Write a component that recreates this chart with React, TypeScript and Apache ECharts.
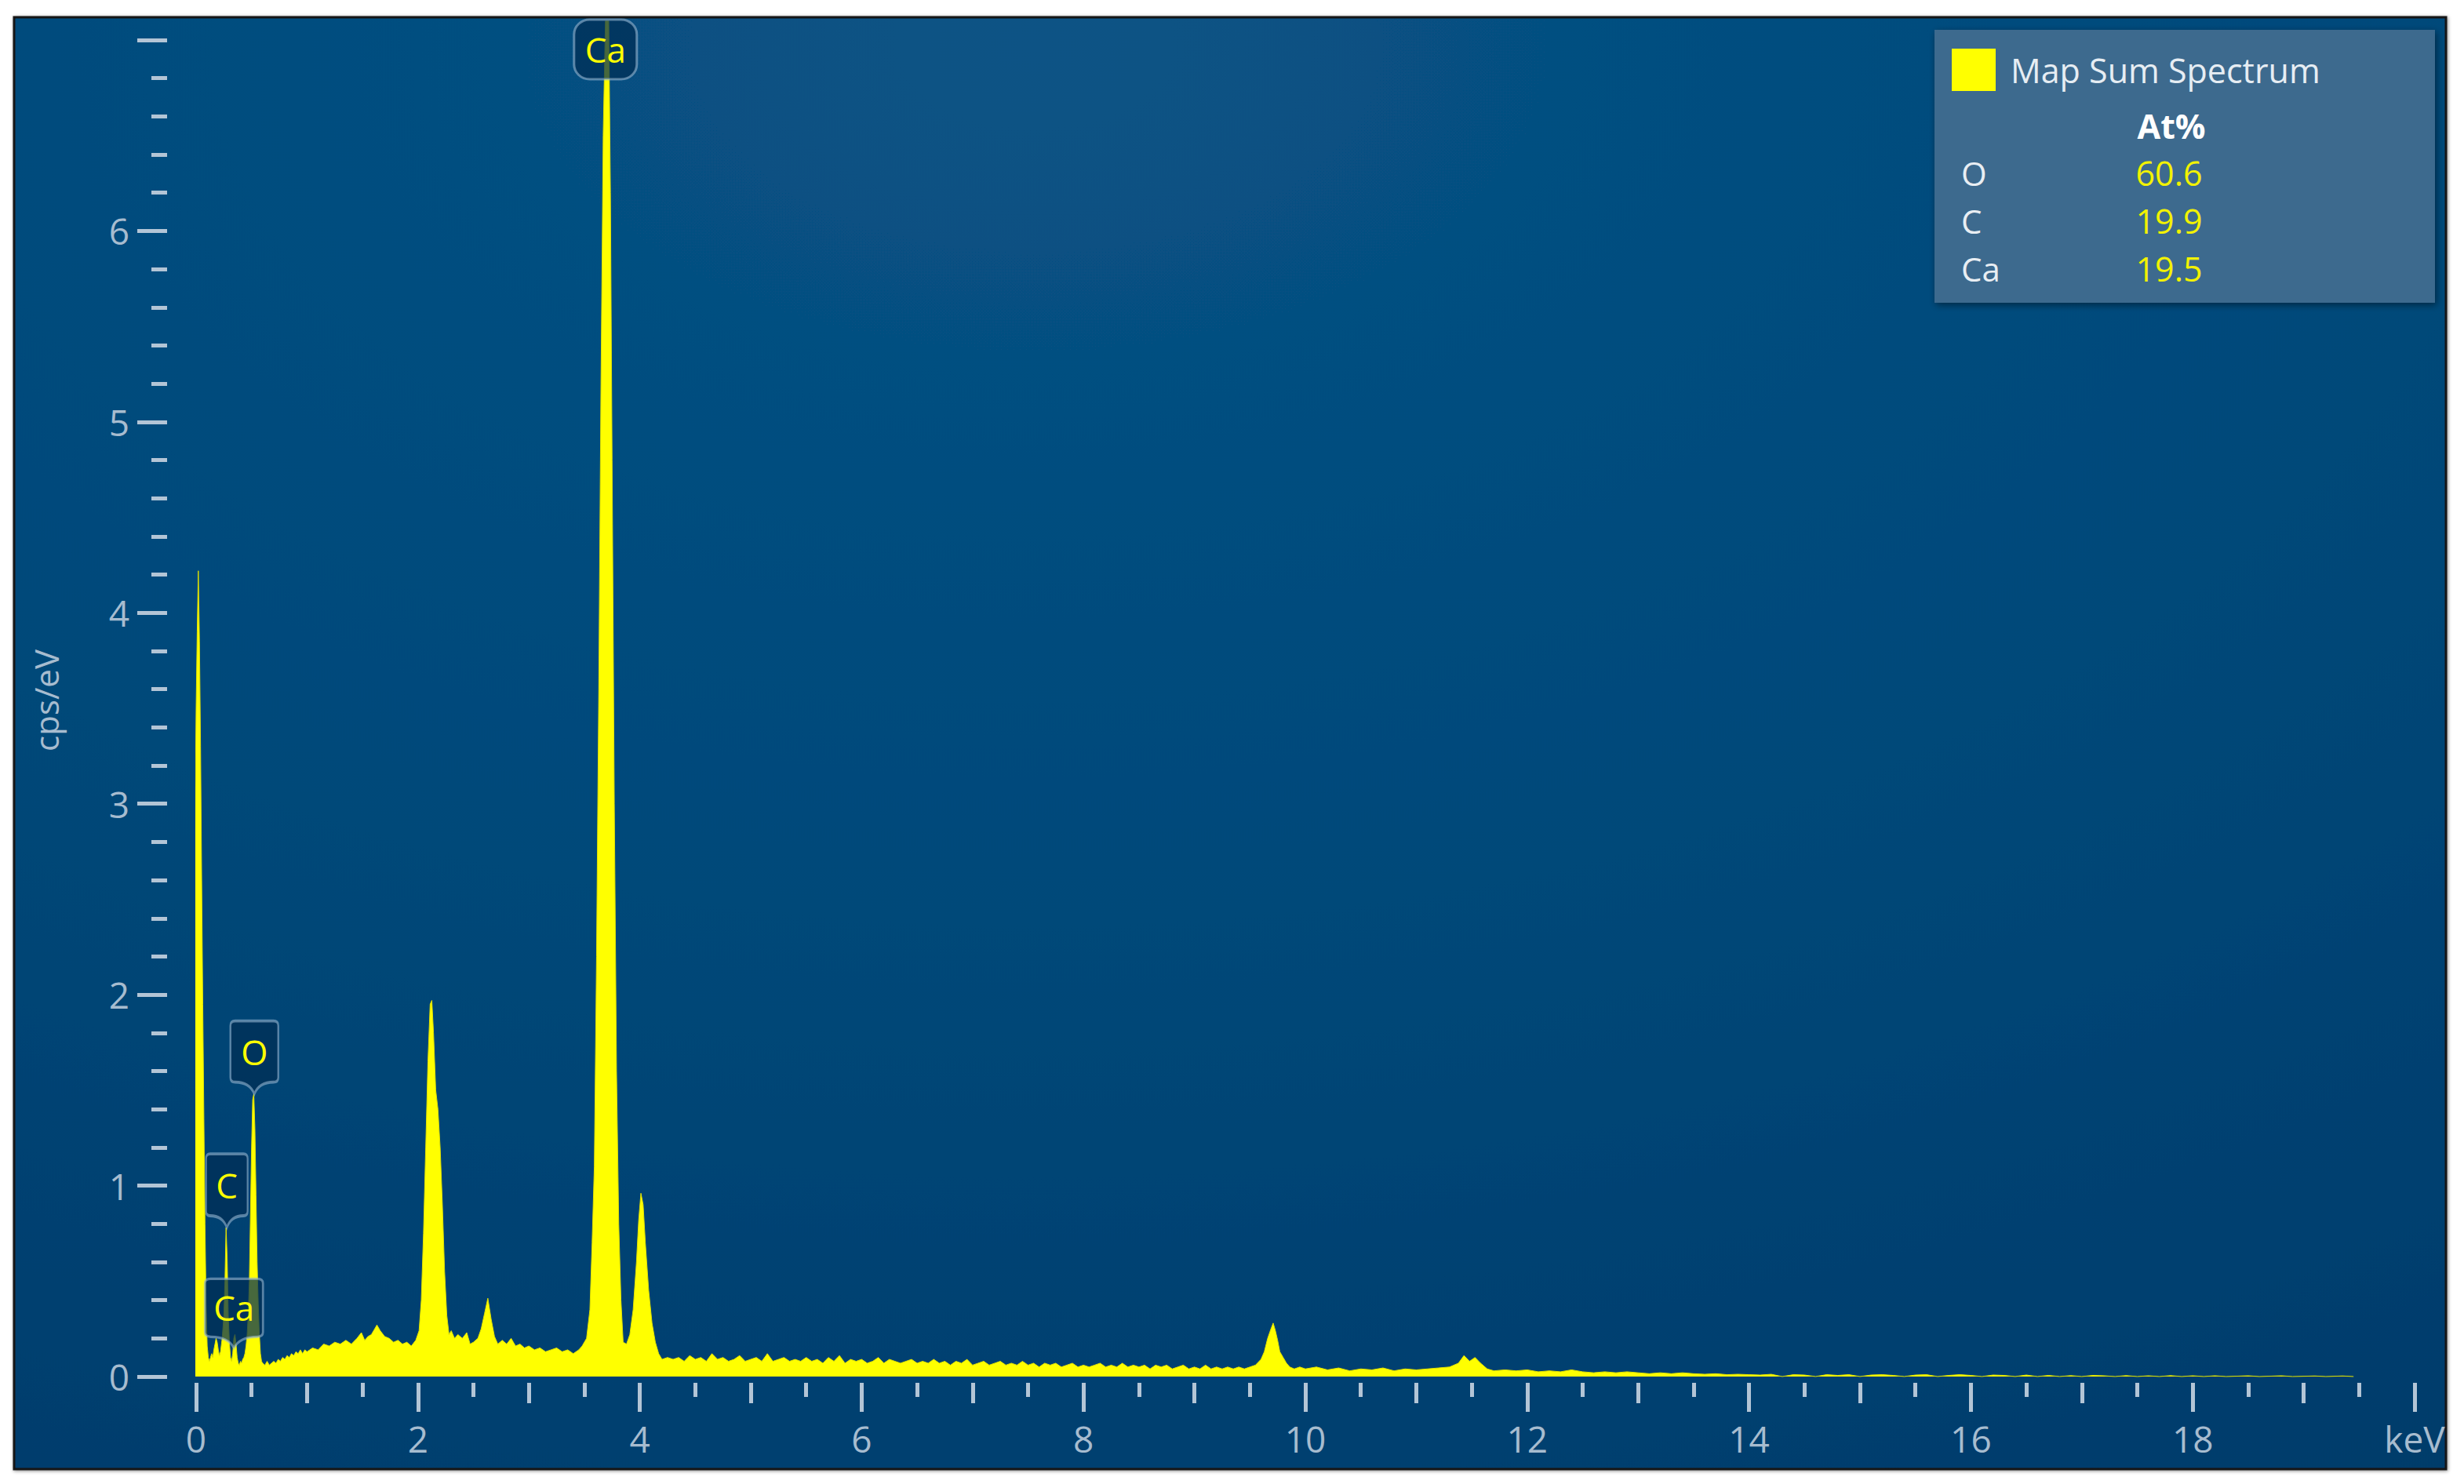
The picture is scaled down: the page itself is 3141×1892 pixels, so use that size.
import React, { useEffect, useRef } from "react";
import * as echarts from "echarts";

// ---------- DATA ----------
// Spectrum: [energy keV, counts cps/eV]
const zeroPeakAndLightElements: [number, number][] = [
  [-0.05, 0], [-0.04, 0.4], [-0.03, 1.1], [-0.02, 2.0], [-0.01, 2.9], [0.0, 3.5], [0.01, 3.9], [0.02, 4.22],
  [0.03, 3.85], [0.04, 3.3], [0.05, 2.6], [0.06, 1.95], [0.07, 1.35], [0.08, 0.8], [0.09, 0.38], [0.1, 0.16],
  [0.11, 0.1], [0.12, 0.08], [0.13, 0.1], [0.14, 0.12], [0.15, 0.1], [0.16, 0.14], [0.17, 0.17], [0.18, 0.2],
  [0.19, 0.18], [0.2, 0.14], [0.21, 0.11], [0.22, 0.13], [0.235, 0.2], [0.25, 0.32], [0.26, 0.5], [0.27, 0.78],
  [0.28, 0.62], [0.29, 0.32], [0.3, 0.18], [0.31, 0.1], [0.32, 0.08], [0.33, 0.12], [0.34, 0.2], [0.35, 0.22],
  [0.36, 0.17], [0.37, 0.1], [0.38, 0.07], [0.39, 0.06], [0.4, 0.08], [0.41, 0.07], [0.42, 0.09], [0.43, 0.1],
  [0.44, 0.12], [0.45, 0.16], [0.46, 0.22], [0.47, 0.32], [0.48, 0.5], [0.49, 0.85], [0.5, 1.2], [0.51, 1.45],
  [0.52, 1.48], [0.53, 1.3], [0.54, 0.95], [0.55, 0.6], [0.56, 0.38], [0.57, 0.22], [0.58, 0.12], [0.59, 0.08],
  [0.6, 0.07], [0.62, 0.06], [0.64, 0.08], [0.66, 0.06], [0.68, 0.07], [0.7, 0.08], [0.72, 0.07], [0.74, 0.09],
  [0.76, 0.08], [0.78, 0.1], [0.8, 0.09], [0.82, 0.11], [0.84, 0.1], [0.86, 0.12], [0.88, 0.11], [0.9, 0.13],
  [0.92, 0.12], [0.94, 0.14], [0.96, 0.12], [0.98, 0.14], [1.0, 0.13],
];

const midEnergyRegion: [number, number][] = [
  [1.05, 0.15], [1.1, 0.14], [1.15, 0.17], [1.2, 0.16], [1.25, 0.18], [1.3, 0.17], [1.35, 0.19], [1.4, 0.17],
  [1.45, 0.2], [1.49, 0.23], [1.52, 0.19], [1.55, 0.21], [1.58, 0.22], [1.61, 0.25], [1.63, 0.27], [1.66, 0.24],
  [1.7, 0.21], [1.74, 0.2], [1.78, 0.18], [1.82, 0.19], [1.86, 0.17], [1.9, 0.18], [1.94, 0.16], [1.98, 0.19],
  [2.01, 0.24], [2.03, 0.4], [2.05, 0.75], [2.07, 1.2], [2.09, 1.65], [2.11, 1.95], [2.125, 1.97], [2.14, 1.8],
  [2.16, 1.5], [2.18, 1.4], [2.2, 1.2], [2.22, 0.9], [2.24, 0.55], [2.26, 0.32], [2.28, 0.22], [2.3, 0.24],
  [2.33, 0.2], [2.36, 0.22], [2.4, 0.2], [2.44, 0.23], [2.47, 0.17], [2.5, 0.18], [2.54, 0.2], [2.57, 0.25],
  [2.6, 0.33], [2.63, 0.41], [2.66, 0.3], [2.69, 0.21], [2.72, 0.17], [2.76, 0.19], [2.8, 0.17], [2.84, 0.2],
  [2.88, 0.16], [2.92, 0.17], [2.96, 0.15], [3.0, 0.16], [3.05, 0.14], [3.1, 0.15], [3.15, 0.13], [3.2, 0.14],
  [3.25, 0.15], [3.3, 0.13], [3.35, 0.14], [3.4, 0.12], [3.45, 0.14], [3.48, 0.16],
];

const calciumKRegion: [number, number][] = [
  [3.52, 0.2], [3.55, 0.35], [3.57, 0.7], [3.59, 1.1], [3.61, 2.2], [3.63, 3.6], [3.65, 5.2], [3.67, 6.5],
  [3.69, 7.1], [3.72, 7.1], [3.735, 6.2], [3.75, 4.8], [3.77, 3.0], [3.79, 1.6], [3.81, 0.8], [3.83, 0.4],
  [3.85, 0.18], [3.88, 0.17], [3.91, 0.22], [3.94, 0.35], [3.97, 0.6], [3.99, 0.82], [4.01, 0.96], [4.03, 0.9],
  [4.05, 0.7], [4.08, 0.45], [4.11, 0.28], [4.14, 0.18], [4.17, 0.12], [4.2, 0.09], [4.25, 0.1], [4.3, 0.09],
];

const backgroundRegion: [number, number][] = [
  [4.35, 0.1], [4.4, 0.08], [4.45, 0.11], [4.5, 0.09], [4.55, 0.1], [4.6, 0.08], [4.65, 0.12], [4.7, 0.09],
  [4.75, 0.1], [4.8, 0.08], [4.85, 0.09], [4.9, 0.11], [4.95, 0.08], [5.0, 0.09], [5.05, 0.1], [5.1, 0.08],
  [5.15, 0.12], [5.2, 0.08], [5.25, 0.09], [5.3, 0.1], [5.35, 0.08], [5.4, 0.09], [5.45, 0.08], [5.5, 0.1],
  [5.55, 0.08], [5.6, 0.09], [5.65, 0.07], [5.7, 0.1], [5.75, 0.08], [5.8, 0.11], [5.85, 0.07], [5.9, 0.09],
  [5.95, 0.08], [6.0, 0.09], [6.05, 0.07], [6.1, 0.08], [6.15, 0.1], [6.2, 0.07], [6.25, 0.09], [6.3, 0.08],
  [6.35, 0.07], [6.4, 0.08], [6.45, 0.09], [6.5, 0.07], [6.55, 0.08], [6.6, 0.07], [6.65, 0.09], [6.7, 0.07],
  [6.75, 0.08], [6.8, 0.06], [6.85, 0.08], [6.9, 0.07], [6.95, 0.09], [7.0, 0.06], [7.05, 0.07], [7.1, 0.08],
  [7.15, 0.06], [7.2, 0.07], [7.25, 0.08], [7.3, 0.06], [7.35, 0.07], [7.4, 0.06], [7.45, 0.08], [7.5, 0.06],
  [7.55, 0.07], [7.6, 0.05], [7.65, 0.07], [7.7, 0.06], [7.75, 0.07], [7.8, 0.05], [7.85, 0.06], [7.9, 0.07],
  [7.95, 0.05], [8.0, 0.06], [8.05, 0.05], [8.1, 0.06], [8.15, 0.07], [8.2, 0.05], [8.25, 0.06], [8.3, 0.05],
  [8.35, 0.07], [8.4, 0.05], [8.45, 0.06], [8.5, 0.05], [8.55, 0.06], [8.6, 0.04], [8.65, 0.06], [8.7, 0.05],
  [8.75, 0.06], [8.8, 0.04], [8.85, 0.05], [8.9, 0.06], [8.95, 0.04], [9.0, 0.05], [9.05, 0.04], [9.1, 0.06],
  [9.15, 0.04], [9.2, 0.05], [9.25, 0.04], [9.3, 0.05], [9.35, 0.04], [9.4, 0.05], [9.45, 0.04], [9.5, 0.05],
  [9.55, 0.06], [9.6, 0.09], [9.63, 0.13], [9.66, 0.2], [9.69, 0.25], [9.71, 0.28], [9.73, 0.24], [9.75, 0.19],
  [9.77, 0.13], [9.8, 0.1], [9.83, 0.07], [9.86, 0.05], [9.9, 0.04], [9.95, 0.05], [10.0, 0.04],
];

const highEnergyRegion: [number, number][] = [
  [10.1, 0.05], [10.2, 0.035], [10.3, 0.045], [10.4, 0.03], [10.5, 0.04], [10.6, 0.035], [10.7, 0.045],
  [10.8, 0.03], [10.9, 0.04], [11.0, 0.035], [11.1, 0.04], [11.2, 0.045], [11.3, 0.05], [11.38, 0.07],
  [11.43, 0.11], [11.48, 0.08], [11.53, 0.1], [11.58, 0.07], [11.64, 0.04], [11.7, 0.03], [11.8, 0.035],
  [11.9, 0.03], [12.0, 0.035], [12.1, 0.025], [12.2, 0.03], [12.3, 0.025], [12.4, 0.035], [12.5, 0.025],
  [12.6, 0.02], [12.7, 0.025], [12.8, 0.02], [12.9, 0.025], [13.0, 0.02], [13.1, 0.015], [13.2, 0.02],
  [13.3, 0.015], [13.4, 0.02], [13.5, 0.015], [13.6, 0.012], [13.7, 0.015], [13.8, 0.01], [13.9, 0.012],
  [14.0, 0.01], [14.1, 0.008], [14.2, 0.012], [14.3, 0], [14.4, 0.01], [14.5, 0.008], [14.6, 0], [14.7, 0.01],
  [14.8, 0.006], [14.9, 0.01], [15.0, 0], [15.1, 0.008], [15.2, 0.01], [15.3, 0.006], [15.4, 0], [15.5, 0.008],
  [15.6, 0.01], [15.7, 0], [15.8, 0.006], [15.9, 0.01], [16.0, 0.006], [16.1, 0], [16.2, 0.008], [16.3, 0.006],
  [16.4, 0], [16.5, 0.008], [16.6, 0], [16.7, 0.006], [16.8, 0], [16.9, 0.005], [17.0, 0], [17.1, 0.006],
  [17.2, 0.004], [17.3, 0], [17.4, 0.005], [17.5, 0], [17.6, 0.004], [17.7, 0], [17.8, 0.005], [17.9, 0],
  [18.0, 0.004], [18.1, 0], [18.2, 0.004], [18.3, 0], [18.5, 0.004], [18.6, 0], [18.8, 0.004], [18.9, 0],
  [19.1, 0.003], [19.2, 0], [19.35, 0.003], [19.45, 0],
];

const spectrum: [number, number][] = [
  ...zeroPeakAndLightElements,
  ...midEnergyRegion,
  ...calciumKRegion,
  ...backgroundRegion,
  ...highEnergyRegion,
];

// Element peak markers: label, energy keV, marker anchor cps/eV
const peakMarkerNames = ["Ca", "O", "C", "Ca"];
const peakMarkerEnergies = [3.69, 0.525, 0.277, 0.341];
const peakMarkerHeights = [7, 1.48, 0.78, 0.15];

// Quantification table
const seriesName = "Map Sum Spectrum";
const tableHeader = "At%";
const tableElements = ["O", "C", "Ca"];
const tableAtomicPercent = [60.6, 19.9, 19.5];

// Axes
const xAxisMax = 20;
const yAxisMax = 7;
const xUnitLabel = "keV";
const yAxisTitle = "cps/eV";

// ---------- STYLE ----------
const FONT = "'Open Sans', 'Noto Sans', sans-serif";
const tickColor = "#b3c5d6";
const labelColor = "#a7bccf";
const yellow = "#ffff00";

const calloutPath =
  "path://M6,0 L54,0 Q60,0 60,6 L60,72 Q60,78 54,78 Q36,78 30,93 Q24,78 6,78 Q0,78 0,72 L0,6 Q0,0 6,0 Z";
const markerSizes: [number, number][] = [[80, 76], [61, 93], [53, 94], [74, 88]];

export default function App() {
  const ref = useRef<HTMLDivElement>(null);

  useEffect(() => {
    if (!ref.current) return;
    const chart = echarts.init(ref.current, undefined, { renderer: "svg" });

    const markData = peakMarkerNames.map((name, i) => {
      const top = i === 0;
      return {
        name,
        coord: [peakMarkerEnergies[i], peakMarkerHeights[i]],
        symbol: top ? "roundRect" : calloutPath,
        symbolSize: markerSizes[i],
        symbolOffset: top ? [0, 12] : [0, "-50%"],
        label: { offset: [0, top ? 0 : -7] },
      };
    });

    const tableRows: any[] = [];
    tableElements.forEach((el, i) => {
      tableRows.push({
        type: "text",
        z: 6,
        x: 2500,
        y: 220 + i * 61,
        style: {
          text: el,
          fill: "#e9eef3",
          font: `42px ${FONT}`,
          align: "left",
          verticalAlign: "middle",
        },
      });
      tableRows.push({
        type: "text",
        z: 6,
        x: 2765,
        y: 220 + i * 61,
        style: {
          text: tableAtomicPercent[i].toFixed(1),
          fill: "#f2f200",
          font: `43px ${FONT}`,
          align: "center",
          verticalAlign: "middle",
        },
      });
    });

    const hiddenValueAxis = (gridIndex: number, min: number, max: number) => ({
      type: "value",
      gridIndex,
      min,
      max,
      show: false,
    });

    const option: any = {
      animation: false,
      backgroundColor: "#ffffff",
      graphic: [
        {
          type: "rect",
          z: 0,
          shape: { x: 18, y: 22, width: 3100, height: 1851 },
          style: {
            fill: new echarts.graphic.RadialGradient(0.42, 0.02, 1.25, [
              { offset: 0, color: "#095385" },
              { offset: 0.45, color: "#01497a" },
              { offset: 1, color: "#003968" },
            ]),
            stroke: "#141414",
            lineWidth: 3,
            shadowBlur: 4,
            shadowColor: "rgba(0,0,0,0.45)",
            shadowOffsetX: 1,
            shadowOffsetY: 1,
          },
        },
        {
          type: "rect",
          z: 3,
          shape: { x: 2466, y: 38, width: 638, height: 348 },
          style: {
            fill: "#3c6b8e",
            shadowBlur: 10,
            shadowColor: "rgba(0,0,0,0.45)",
            shadowOffsetX: 2,
            shadowOffsetY: 3,
          },
        },
        {
          type: "text",
          z: 6,
          x: 2768,
          y: 160,
          style: {
            text: tableHeader,
            fill: "#ffffff",
            font: `bold 43px ${FONT}`,
            align: "center",
            verticalAlign: "middle",
          },
        },
        ...tableRows,
      ],
      legend: {
        data: [seriesName],
        left: 2488,
        top: 62,
        padding: 0,
        itemWidth: 56,
        itemHeight: 54,
        itemGap: 0,
        icon: "rect",
        selectedMode: false,
        z: 5,
        textStyle: { color: "#e6edf3", fontSize: 43, fontFamily: FONT, padding: [0, 0, 0, 14] },
      },
      grid: [
        // 0: plotting area
        { left: 250, right: 63, top: 51, bottom: 137, containLabel: false },
        // 1: y-axis scale, set apart to the left of the plot
        { left: 213, right: 63, top: 51, bottom: 137, containLabel: false },
        // 2: x-axis scale, set a little below the plot
        { left: 250, right: 63, top: 59, bottom: 129, containLabel: false },
      ],
      xAxis: [
        hiddenValueAxis(0, 0, xAxisMax),
        {
          type: "value",
          gridIndex: 2,
          position: "bottom",
          min: 0,
          max: xAxisMax,
          interval: 2,
          axisLine: { show: false },
          axisTick: { show: true, length: 37, lineStyle: { color: tickColor, width: 5 } },
          minorTick: { show: true, splitNumber: 4, length: 18, lineStyle: { color: tickColor, width: 5 } },
          splitLine: { show: false },
          minorSplitLine: { show: false },
          axisLabel: {
            color: labelColor,
            fontSize: 46,
            fontFamily: FONT,
            margin: 48,
            formatter: (v: number) => (v === xAxisMax ? xUnitLabel : String(v)),
          },
        },
        {
          type: "value",
          gridIndex: 2,
          position: "bottom",
          min: 0,
          max: xAxisMax,
          interval: 1,
          axisLine: { show: false },
          axisTick: { show: true, length: 26, lineStyle: { color: tickColor, width: 5 } },
          splitLine: { show: false },
          axisLabel: { show: false },
        },
        hiddenValueAxis(1, 0, xAxisMax),
      ],
      yAxis: [
        hiddenValueAxis(0, 0, yAxisMax),
        {
          type: "value",
          gridIndex: 1,
          position: "left",
          min: 0,
          max: yAxisMax,
          interval: 1,
          name: yAxisTitle,
          nameLocation: "middle",
          nameRotate: 90,
          nameGap: 134,
          nameTextStyle: { color: labelColor, fontSize: 42, fontFamily: FONT, padding: [0, 0, 0, 20] },
          axisLine: { show: false },
          axisTick: { show: true, length: 38, lineStyle: { color: tickColor, width: 5 } },
          minorTick: { show: true, splitNumber: 5, length: 20, lineStyle: { color: tickColor, width: 5 } },
          splitLine: { show: false },
          minorSplitLine: { show: false },
          axisLabel: {
            color: labelColor,
            fontSize: 46,
            fontFamily: FONT,
            margin: 48,
            formatter: (v: number) => (v === yAxisMax ? "" : String(v)),
          },
        },
        hiddenValueAxis(2, 0, yAxisMax),
      ],
      series: [
        {
          type: "line",
          name: seriesName,
          xAxisIndex: 0,
          yAxisIndex: 0,
          data: spectrum,
          symbol: "none",
          showSymbol: false,
          clip: false,
          z: 2,
          itemStyle: { color: yellow },
          lineStyle: { color: "#e2e200", width: 1 },
          areaStyle: { color: yellow, opacity: 1 },
          markPoint: {
            z: 5,
            data: markData,
            itemStyle: {
              color: "rgba(0,46,84,0.72)",
              borderColor: "rgba(150,182,208,0.6)",
              borderWidth: 3,
            },
            label: {
              show: true,
              position: "inside",
              color: yellow,
              fontSize: 44,
              fontFamily: FONT,
              formatter: (p: any) => p.name,
            },
          },
        },
      ],
    };

    chart.setOption(option);
    return () => chart.dispose();
  }, []);

  return (
    <div
      ref={ref}
      style={{ position: "absolute", left: 0, top: 0, width: 3141, height: 1892 }}
    />
  );
}
